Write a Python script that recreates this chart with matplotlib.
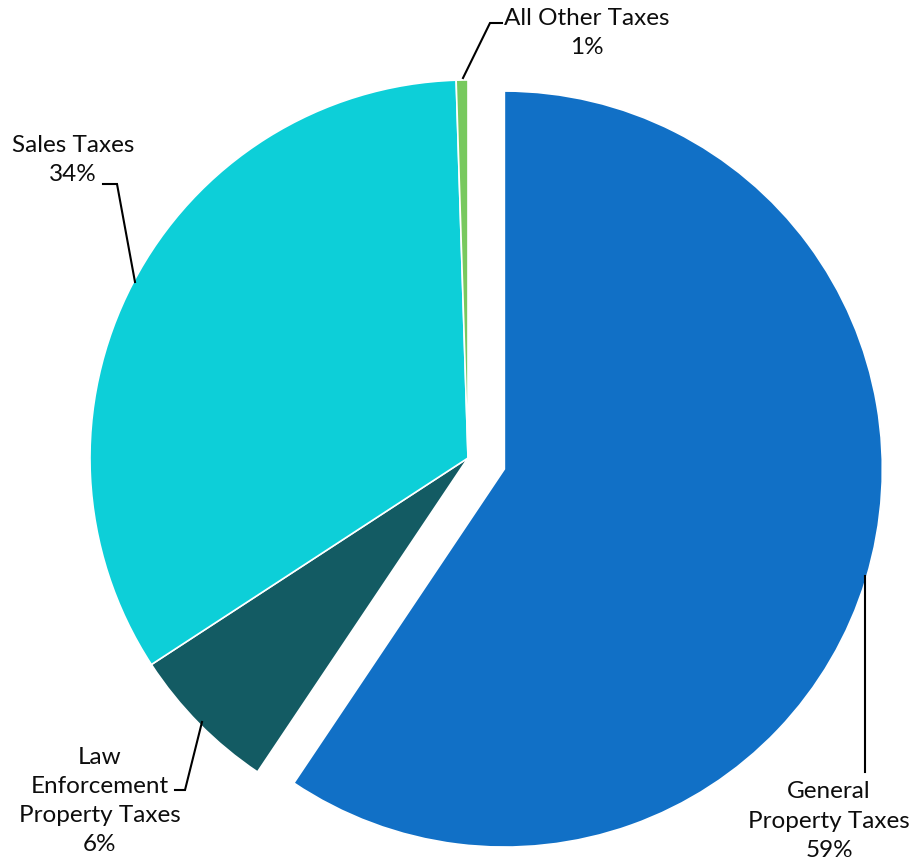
import matplotlib
matplotlib.use("Agg")
import matplotlib.pyplot as plt

# Tax revenue shares (percent), clockwise from 12 o'clock
categories = ["General\nProperty Taxes", "Law\nEnforcement\nProperty Taxes",
              "Sales Taxes", "All Other Taxes"]
shares = [59.4, 6.4, 33.7, 0.5]
colors = ["#1170C6", "#135B63", "#0DCFD8", "#78C95E"]

W, H = 914, 867
fig = plt.figure(figsize=(W / 100, H / 100), dpi=100)
ax = fig.add_axes([0, 0, 1, 1])

cx, cy, r = 468, H - 458, 378
ax.pie(shares, colors=colors, startangle=90, counterclock=False,
       radius=r, center=(cx, cy), explode=[38, 0, 0, 0], frame=True,
       wedgeprops=dict(edgecolor="white", linewidth=1.2))

ax.set_xlim(0, W)
ax.set_ylim(0, H)
ax.set_aspect("equal")
ax.axis("off")

plt.rcParams["font.family"] = ["Lato", "DejaVu Sans"]


def pct(v):
    return f"{int(v + 0.5)}%"


# label anchor (pixel from top-left) and leader polyline
label_pos = [(829, 821), (100, 801), (73, 160), (587, 33)]
leaders = [
    [(865, 576), (865, 772)],
    [(175, 790), (185, 790), (202, 722)],
    [(103, 184), (117, 184), (135, 282)],
    [(502, 23), (490, 23), (463, 78)],
]

for name, v, (lx, ly), pts in zip(categories, shares, label_pos, leaders):
    ax.text(lx, H - ly, f"{name}\n{pct(v)}", ha="center", va="center",
            fontsize=17.5, color="#0d0d0d", linespacing=1.48)
    xs = [p[0] for p in pts]
    ys = [H - p[1] for p in pts]
    ax.plot(xs, ys, color="black", linewidth=1.5, solid_joinstyle="miter")

fig.savefig("out.png", dpi=100, facecolor="white")
